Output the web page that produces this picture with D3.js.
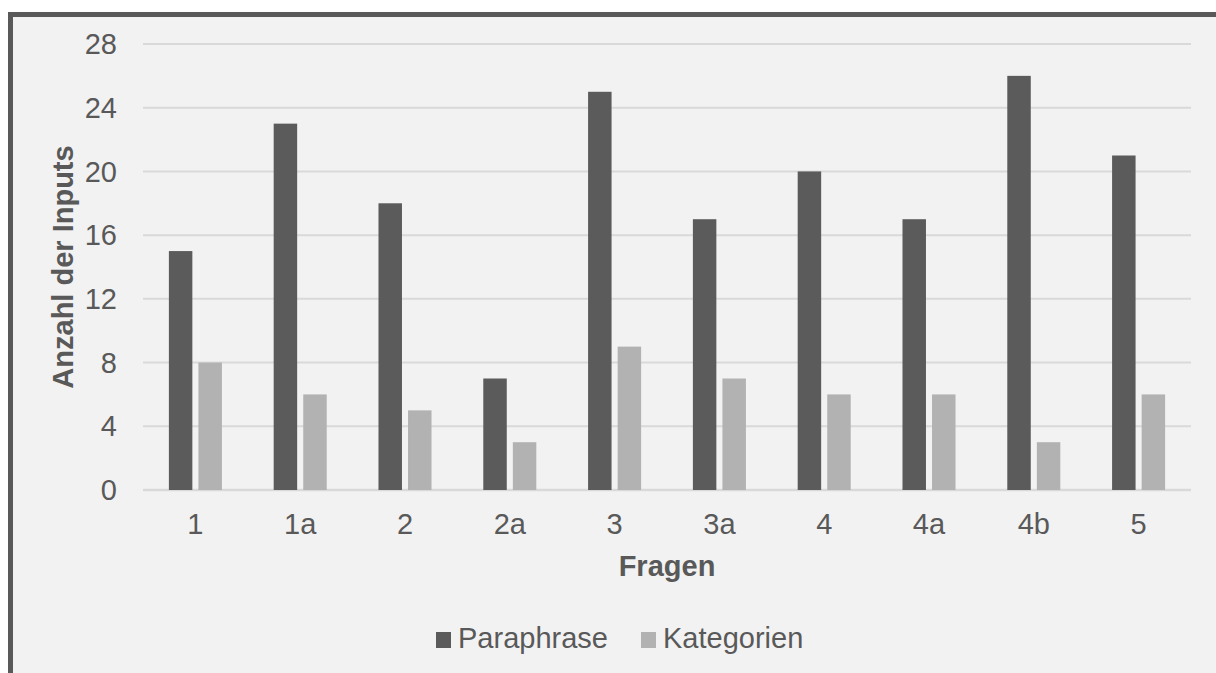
<!DOCTYPE html>
<html>
<head>
<meta charset="utf-8">
<script src="https://cdn.jsdelivr.net/npm/d3@7"></script>
<style>
  body { margin: 0; background: #fff; }
  text { font-family: "Liberation Sans", Arial, sans-serif; fill: #595959; }
</style>
</head>
<body>
<div id="chart"></div>
<script>
const categories = ["1", "1a", "2", "2a", "3", "3a", "4", "4a", "4b", "5"];
const paraphrase = [15, 23, 18, 7, 25, 17, 20, 17, 26, 21];
const kategorien = [8, 6, 5, 3, 9, 7, 6, 6, 3, 6];
const seriesNames = ["Paraphrase", "Kategorien"];
const yTicks = [0, 4, 8, 12, 16, 20, 24, 28];

const W = 1216, H = 673;
const colors = ["#5b5b5b", "#b2b2b2"];
const plot = { left: 143, right: 1191, top: 44, bottom: 490 };

const svg = d3.select("#chart").append("svg")
  .attr("width", W)
  .attr("height", H);

//Frame: only the left and top edges are inside the picture
svg.append("rect")
  .attr("x", 10.5).attr("y", 14.5)
  .attr("width", W + 20).attr("height", H + 20)
  .attr("fill", "#f2f2f2")
  .attr("stroke", "#595959")
  .attr("stroke-width", 5);

//Scales
const x = d3.scaleBand()
  .domain(categories)
  .range([plot.left, plot.right]);
const y = d3.scaleLinear()
  .domain([0, 28])
  .range([plot.bottom, plot.top]);

const barW = x.bandwidth() * 0.224;
const gap = x.bandwidth() * 0.058;
const xSub = d3.scaleOrdinal()
  .domain(seriesNames)
  .range([-gap / 2 - barW, gap / 2]);

//Grid
svg.append("g")
  .selectAll("line")
  .data(yTicks)
  .join("line")
  .attr("x1", plot.left).attr("x2", plot.right)
  .attr("y1", d => y(d)).attr("y2", d => y(d))
  .attr("stroke", "#d9d9d9")
  .attr("stroke-width", d => d === 0 ? 2.5 : 2);

//Y tick labels
svg.append("g")
  .selectAll("text")
  .data(yTicks)
  .join("text")
  .attr("x", 117)
  .attr("y", d => y(d))
  .attr("dy", "0.35em")
  .attr("text-anchor", "end")
  .style("font-size", "29px")
  .text(d => d);

//Bars
const rows = categories.map((c, i) => ({ cat: c, values: [paraphrase[i], kategorien[i]] }));
const groups = svg.append("g")
  .selectAll("g.group")
  .data(rows)
  .join("g")
  .classed("group", true)
  .attr("transform", d => `translate(${x(d.cat) + x.bandwidth() / 2},0)`);

groups.selectAll("rect")
  .data(d => d.values.map((v, j) => ({ name: seriesNames[j], value: v, j })))
  .join("rect")
  .attr("x", d => xSub(d.name))
  .attr("y", d => y(d.value))
  .attr("width", barW)
  .attr("height", d => y(0) - y(d.value))
  .attr("fill", d => colors[d.j]);

//X tick labels
svg.append("g")
  .selectAll("text")
  .data(categories)
  .join("text")
  .attr("x", d => x(d) + x.bandwidth() / 2)
  .attr("y", 534)
  .attr("text-anchor", "middle")
  .style("font-size", "29px")
  .text(d => d);

//Axis titles
svg.append("text")
  .attr("x", (plot.left + plot.right) / 2)
  .attr("y", 576)
  .attr("text-anchor", "middle")
  .style("font-size", "29px")
  .style("font-weight", "bold")
  .text("Fragen");

svg.append("text")
  .attr("transform", `translate(73,${(plot.top + plot.bottom) / 2}) rotate(-90)`)
  .attr("text-anchor", "middle")
  .style("font-size", "29px")
  .style("font-weight", "bold")
  .text("Anzahl der Inputs");

//Legend
const legendX = [436, 641];
const legend = svg.append("g")
  .selectAll("g")
  .data(seriesNames)
  .join("g")
  .attr("transform", (_, i) => `translate(${legendX[i]},632)`);
legend.append("rect")
  .attr("width", 15).attr("height", 16)
  .attr("fill", (_, i) => colors[i]);
legend.append("text")
  .attr("x", 22)
  .attr("y", 16)
  .style("font-size", "29px")
  .text(d => d);
</script>
</body>
</html>
